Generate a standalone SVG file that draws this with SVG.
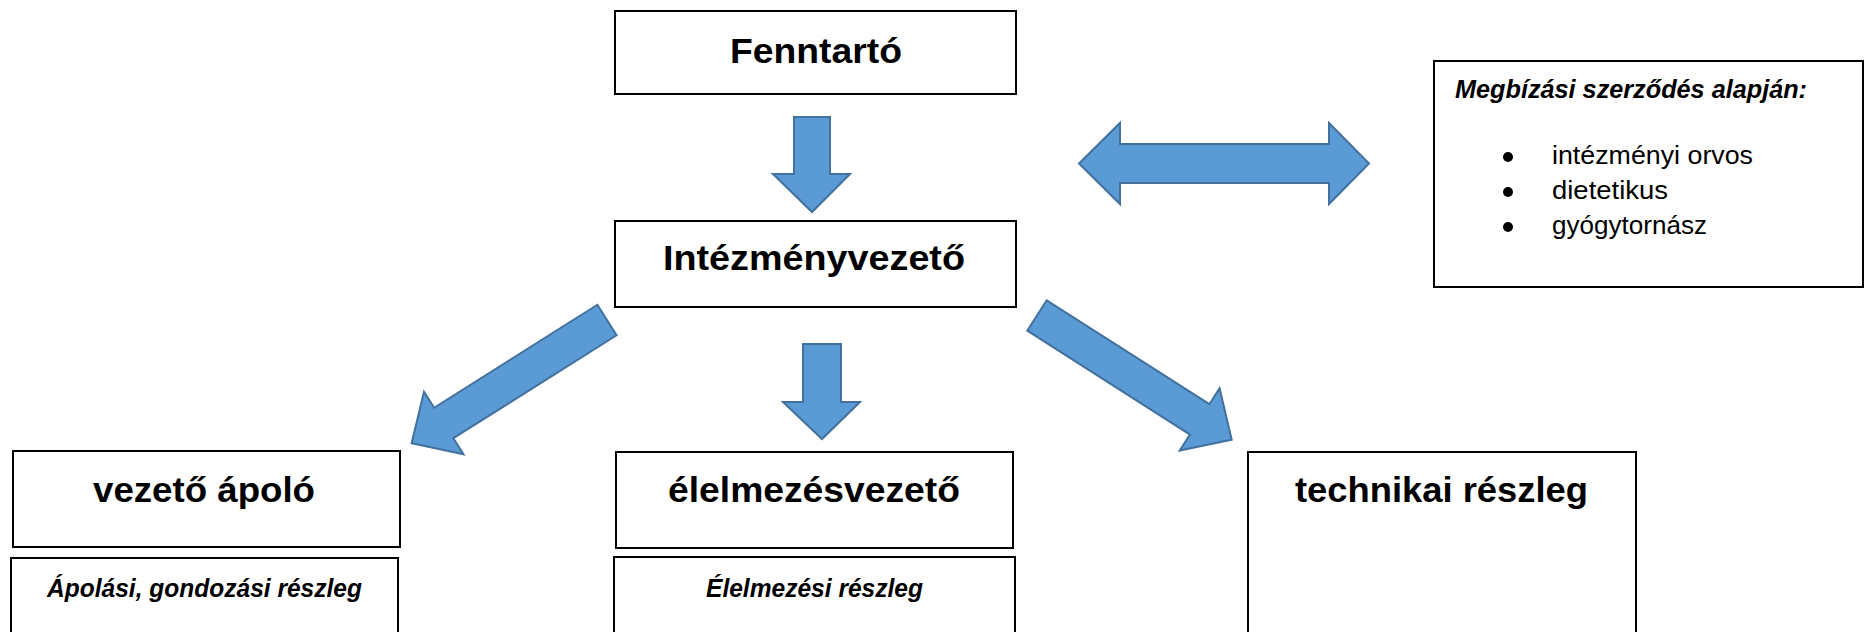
<svg xmlns="http://www.w3.org/2000/svg" width="1865" height="632" viewBox="0 0 1865 632">
<style>
.box{fill:#fff;stroke:#000;stroke-width:2}
.arrow{fill:#5B9BD5;stroke:#41719C;stroke-width:2;stroke-linejoin:miter}
.title{font-family:"Liberation Sans",Arial,sans-serif;font-weight:bold;font-size:35px;fill:#000}
.sub{font-family:"Liberation Sans",Arial,sans-serif;font-weight:bold;font-style:italic;font-size:25px;fill:#000}
.item{font-family:"Liberation Sans",Arial,sans-serif;font-size:26px;fill:#000}
</style>
<defs>
<path id="diagArrow" d="M0,-18 H193 V-37 L231,0 L193,37 V18 H0 Z"/>
</defs>
<rect width="1865" height="632" fill="#fff"/>
<g id="connectors">
<path class="arrow" d="M794,117 H830 V174 H850 L812,212 L773,174 H794 Z"/>
<path class="arrow" d="M1079,163.5 L1120,123 V144 H1329 V123 L1369,163.5 L1329,204 V183 H1120 V204 Z"/>
<use class="arrow" href="#diagArrow" transform="translate(607,320) rotate(147.76)"/>
<path class="arrow" d="M803,344 H841 V402 H860 L822,439 L783,402 H803 Z"/>
<use class="arrow" href="#diagArrow" transform="translate(1037,315.5) rotate(32.56)"/>
</g>
<g id="fenntarto">
<rect class="box" x="615" y="11" width="401" height="83"/>
<text class="title" x="730" y="63" textLength="172" lengthAdjust="spacingAndGlyphs">Fenntartó</text>
</g>
<g id="intezmenyvezeto">
<rect class="box" x="615" y="221" width="401" height="86"/>
<text class="title" x="663" y="270" textLength="302" lengthAdjust="spacingAndGlyphs">Intézményvezető</text>
</g>
<g id="megbizasi">
<rect class="box" x="1434" y="61" width="429" height="226"/>
<text class="sub" x="1455" y="98" textLength="352" lengthAdjust="spacingAndGlyphs">Megbízási szerződés alapján:</text>
<circle cx="1508" cy="157" r="5" fill="#000"/>
<text class="item" x="1552" y="164" textLength="201" lengthAdjust="spacingAndGlyphs">intézményi orvos</text>
<circle cx="1508" cy="192" r="5" fill="#000"/>
<text class="item" x="1552" y="199" textLength="116" lengthAdjust="spacingAndGlyphs">dietetikus</text>
<circle cx="1508" cy="227" r="5" fill="#000"/>
<text class="item" x="1552" y="234" textLength="155" lengthAdjust="spacingAndGlyphs">gyógytornász</text>
</g>
<g id="vezeto-apolo">
<rect class="box" x="13" y="451" width="387" height="96"/>
<text class="title" x="93" y="502" textLength="222" lengthAdjust="spacingAndGlyphs">vezető ápoló</text>
</g>
<g id="apolasi-reszleg">
<rect class="box" x="11" y="558" width="387" height="90"/>
<text class="sub" x="47" y="597" textLength="315" lengthAdjust="spacingAndGlyphs">Ápolási, gondozási részleg</text>
</g>
<g id="elelmezesvezeto">
<rect class="box" x="616" y="452" width="397" height="96"/>
<text class="title" x="668" y="502" textLength="292" lengthAdjust="spacingAndGlyphs">élelmezésvezető</text>
</g>
<g id="elelmezesi-reszleg">
<rect class="box" x="614" y="557" width="401" height="90"/>
<text class="sub" x="706" y="597" textLength="217" lengthAdjust="spacingAndGlyphs">Élelmezési részleg</text>
</g>
<g id="technikai-reszleg">
<rect class="box" x="1248" y="452" width="388" height="200"/>
<text class="title" x="1295" y="502" textLength="293" lengthAdjust="spacingAndGlyphs">technikai részleg</text>
</g>
</svg>
